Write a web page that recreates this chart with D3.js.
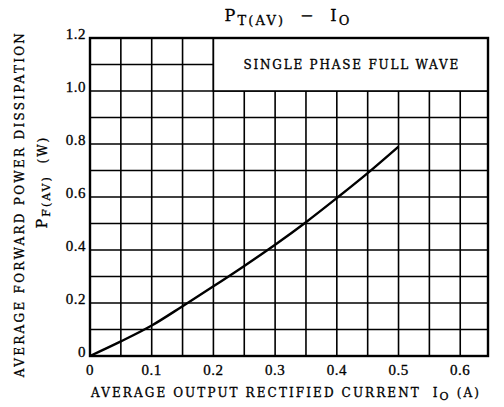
<!DOCTYPE html>
<meta charset="utf-8">
<script src="https://d3js.org/d3.v7.min.js"></script>
<style>
body { margin: 0; background: #fff; }
text { font-family: "DejaVu Serif", "Liberation Serif", serif; fill: #000; stroke: #000; stroke-width: 0.3; }
.tick { font-family: "Liberation Serif", serif; }
</style>
<body>
</body>
<script>
// curve
var io = [0, 0.05, 0.1, 0.15, 0.2, 0.25, 0.3, 0.35, 0.4, 0.45, 0.5];
var pf = [0, 0.055, 0.115, 0.188, 0.263, 0.34, 0.42, 0.505, 0.596, 0.69, 0.79];

var xTicks = [0, 0.1, 0.2, 0.3, 0.4, 0.5, 0.6];
var xTickLabels = ["0", "0.1", "0.2", "0.3", "0.4", "0.5", "0.6"];
var yTicks = [0, 0.2, 0.4, 0.6, 0.8, 1.0, 1.2];
var yTickLabels = ["0", "0.2", "0.4", "0.6", "0.8", "1.0", "1.2"];
var xGrid = d3.range(1, 13).map(function(i) { return i * 0.05; });
var yGrid = d3.range(1, 12).map(function(i) { return i * 0.1; });

var legendText = "SINGLE PHASE FULL WAVE";

var width = 504, height = 407;
var svg = d3.select("body").append("svg")
    .attr("width", width)
    .attr("height", height);

var x = d3.scaleLinear().domain([0, 0.645]).range([90, 488]);
var y = d3.scaleLinear().domain([0, 1.2]).range([356, 38]);

// grid
svg.selectAll(".vgrid").data(xGrid).enter().append("line")
    .attr("x1", function(d) { return x(d); })
    .attr("x2", function(d) { return x(d); })
    .attr("y1", y(0)).attr("y2", y(1.2))
    .attr("stroke", "#000").attr("stroke-width", 1.6);

svg.selectAll(".hgrid").data(yGrid).enter().append("line")
    .attr("x1", x(0)).attr("x2", x(0.645))
    .attr("y1", function(d) { return y(d); })
    .attr("y2", function(d) { return y(d); })
    .attr("stroke", "#000").attr("stroke-width", 1.6);

// legend box covers grid
svg.append("rect")
    .attr("x", x(0.2)).attr("y", y(1.2))
    .attr("width", x(0.645) - x(0.2))
    .attr("height", y(1.0) - y(1.2))
    .attr("fill", "#fff")
    .attr("stroke", "#000").attr("stroke-width", 1.6);

svg.append("text")
    .attr("x", (x(0.2) + x(0.645)) / 2 + 1)
    .attr("y", y(1.1) + 4)
    .attr("text-anchor", "middle")
    .attr("font-size", 12)
    .attr("letter-spacing", 1.8)
    .text(legendText);

// frame
svg.append("rect")
    .attr("x", x(0)).attr("y", y(1.2))
    .attr("width", x(0.645) - x(0))
    .attr("height", y(0) - y(1.2))
    .attr("fill", "none")
    .attr("stroke", "#000").attr("stroke-width", 2.4);

// curve
var line = d3.line()
    .x(function(d, i) { return x(io[i]); })
    .y(function(d) { return y(d); })
    .curve(d3.curveCatmullRom);

svg.append("path")
    .datum(pf)
    .attr("d", line)
    .attr("fill", "none")
    .attr("stroke", "#000")
    .attr("stroke-width", 2.4);

// tick labels
svg.selectAll(".xl").data(xTicks).enter().append("text")
    .attr("class", "tick")
    .attr("x", function(d) { return x(d); })
    .attr("y", 375)
    .attr("text-anchor", "middle")
    .attr("font-size", 15)
    .attr("letter-spacing", 0.5)
    .text(function(d, i) { return xTickLabels[i]; });

svg.selectAll(".yl").data(yTicks).enter().append("text")
    .attr("class", "tick")
    .attr("x", 86)
    .attr("y", function(d) { return y(d) + 1; })
    .attr("text-anchor", "end")
    .attr("font-size", 15)
    .attr("letter-spacing", 0.5)
    .text(function(d, i) { return yTickLabels[i]; });

// title
var title = svg.append("text")
    .attr("x", 288).attr("y", 21)
    .attr("text-anchor", "middle")
    .attr("font-size", 16)
    .attr("letter-spacing", 2.2);
title.append("tspan").text("P");
title.append("tspan").attr("font-size", 13).attr("dy", 4).text("T(AV)");
title.append("tspan").attr("dy", -4).text("\u00a0\u00a0\u2212\u00a0\u00a0I");
title.append("tspan").attr("font-size", 13).attr("dy", 4).text("O");

// x axis title
var xt = svg.append("text")
    .attr("x", 286).attr("y", 397)
    .attr("text-anchor", "middle")
    .attr("font-size", 12)
    .attr("letter-spacing", 2.1);
xt.append("tspan").text("AVERAGE OUTPUT RECTIFIED CURRENT\u00a0\u00a0I");
xt.append("tspan").attr("font-size", 11).attr("dy", 3).text("O");
xt.append("tspan").attr("dy", -3).text("\u00a0(A)");

// y axis title
svg.append("text")
    .attr("transform", "translate(24,204) rotate(-90)")
    .attr("text-anchor", "middle")
    .attr("font-size", 12)
    .attr("letter-spacing", 2.3)
    .text("AVERAGE FORWARD POWER DISSIPATION");

var yt = svg.append("text")
    .attr("transform", "translate(47,182) rotate(-90)")
    .attr("text-anchor", "middle")
    .attr("font-size", 12)
    .attr("letter-spacing", 2);
yt.append("tspan").attr("font-size", 14).text("P");
yt.append("tspan").attr("font-size", 11).attr("dy", 3).text("F(AV)");
yt.append("tspan").attr("dy", -3).text("\u00a0\u00a0(W)");
</script>
